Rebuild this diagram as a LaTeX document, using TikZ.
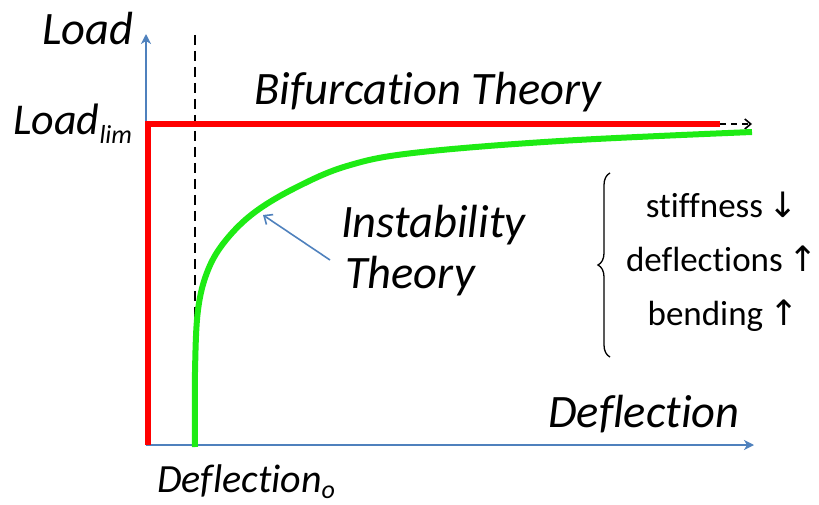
\documentclass[tikz,border=0pt]{standalone}
\usepackage{fontspec}
\setmainfont{Carlito}[Ligatures=NoCommon]
\newfontfamily\arrowfont{DejaVu Sans}
\usetikzlibrary{arrows.meta,decorations.pathreplacing}
\definecolor{axisblue}{RGB}{79,129,189}
\definecolor{curvegreen}{RGB}{30,235,20}
\begin{document}
\begin{tikzpicture}[x=1pt,y=-1pt,
  lbl/.style={inner sep=0pt, anchor=base west, font=\fontsize{46.5}{50}\selectfont\itshape},
  sidetxt/.style={inner sep=0pt, anchor=base, font=\fontsize{35}{40}\selectfont},
  axis/.style={draw=axisblue, line width=2.5pt, -{Stealth[length=10pt,width=10pt,inset=3pt]}},
  redline/.style={draw=red, line width=6pt},
  greenline/.style={draw=curvegreen, line width=6pt},
  guide/.style={draw=black, line width=1.8pt, dash pattern=on 10pt off 6pt},
]
\useasboundingbox (0,0) rectangle (819,505);
% axes
\coordinate (O) at (146,445);
\coordinate (ytop) at (146,34);
\coordinate (xend) at (754,445);
\draw[axis] (O) -- (ytop);
\draw[axis] (O) -- (xend);
% dashed guide
\coordinate (g0) at (195,35);
\coordinate (g1) at (195,335);
\draw[guide] (g0) -- (g1);
% red bifurcation line
\coordinate (r0) at (148,445);
\coordinate (rc) at (148,124);
\coordinate (r1) at (720,124);
\coordinate (r2) at (752,124);
\draw[redline] (r0) -- (rc) -- (r1);
\draw[black, line width=1.6pt, dash pattern=on 6pt off 5pt, -{Straight Barb[length=6pt,width=10pt]}] (r1) -- (r2);
% green curve
\draw[greenline] plot[smooth, tension=0.6] coordinates {(195,447) (195,372) (198,310) (208,270) (226,240) (255,212) (297,187) (347,166) (413,153) (560,141) (752,132)};
% labels
\node[lbl] (load) at (42,45) {Load};
\node[lbl, font=\fontsize{44}{48}\selectfont\itshape] (loadlim) at (13,135) {Load\raisebox{-9pt}{\fontsize{26}{28}\selectfont lim}};
\node[lbl] (bif) at (254,105) {Bifurcation Theory};
\node[lbl] (inst) at (341,237) {Instability};
\node[lbl] (theory) at (345,288) {Theory};
\node[lbl] (defl) at (548,427) {Deflection};
\node[lbl, font=\fontsize{40}{44}\selectfont\itshape] (defl0) at (157,492) {Deflection\raisebox{-6pt}{\fontsize{26}{28}\selectfont o}};
% annotation arrow
\coordinate (atail) at (330,260);
\coordinate (ahead) at (263,215);
\draw[axisblue, line width=1.6pt, -{Straight Barb[length=7pt,width=12pt]}] (atail) -- (ahead);
% brace and side text
\coordinate (b0) at (610,357);
\coordinate (b1) at (610,173);
\draw[black, line width=1.3pt, decorate, decoration={brace, amplitude=12pt}] (b0) -- (b1);
\node[sidetxt] (s1) at (722,218) {stiffness\,{\arrowfont ↓}};
\node[sidetxt] (s2) at (722,271) {deflections\,{\arrowfont ↑}};
\node[sidetxt] (s3) at (723,325) {bending\,{\arrowfont ↑}};
\end{tikzpicture}
\end{document}
